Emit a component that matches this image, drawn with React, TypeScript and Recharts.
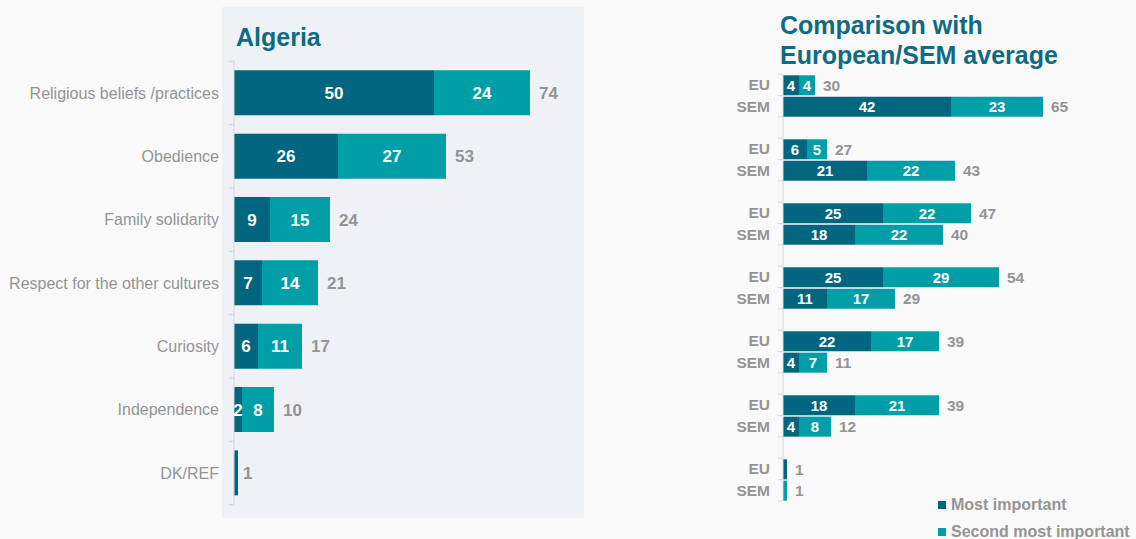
import { BarChart, Bar, XAxis, YAxis, LabelList } from "recharts";

const categories = [
  "Religious beliefs /practices",
  "Obedience",
  "Family solidarity",
  "Respect for the other cultures",
  "Curiosity",
  "Independence",
  "DK/REF",
];
const algeriaMost = [50, 26, 9, 7, 6, 2, 1];
const algeriaSecond = [24, 27, 15, 14, 11, 8, 0];
const algeriaTotal = [74, 53, 24, 21, 17, 10, 1];

const euMost = [4, 6, 25, 25, 22, 18, 1];
const euSecond = [4, 5, 22, 29, 17, 21, 0];
const euTotal = [30, 27, 47, 54, 39, 39, 1];
const semMost = [42, 21, 18, 11, 4, 4, 0];
const semSecond = [23, 22, 22, 17, 7, 8, 1];
const semTotal = [65, 43, 40, 29, 11, 12, 1];

const DARK = "#00667f";
const TEAL = "#009fa8";
const GREY = "#949494";
const TITLE = "#0f6a82";
const FONT = '"Liberation Sans", Arial, Helvetica, sans-serif';

// the total goes after the last non-empty segment
const row = (key: string, label: string, most: number, second: number, total: number | null) => ({
  key,
  label,
  most,
  second,
  totalA: total != null && second === 0 ? total : null,
  totalB: total != null && second > 0 ? total : null,
});

const leftData = categories.map((c, i) => row(c, c, algeriaMost[i], algeriaSecond[i], algeriaTotal[i]));

const rightData: ReturnType<typeof row>[] = [];
categories.forEach((c, i) => {
  rightData.push(row(`eu-${i}`, "EU", euMost[i], euSecond[i], euTotal[i]));
  rightData.push(row(`sem-${i}`, "SEM", semMost[i], semSecond[i], semTotal[i]));
  if (i < categories.length - 1) rightData.push(row(`gap-${i}`, "", 0, 0, null));
});

// left chart geometry
const L_W = 580;
const L_H = 539;
const L_TOP = 61.3;
const L_BOTTOM = 34.3;
const L_AXIS = 234;
const L_BAND = (L_H - L_TOP - L_BOTTOM) / leftData.length;

// right chart geometry
const R_W = 436;
const R_H = 539;
const R_TOP = 74.3;
const R_BOTTOM = 38;
const R_AXIS = 83;
const R_BAND = (R_H - R_TOP - R_BOTTOM) / rightData.length;

function makeTick(data: any[], axisX: number, band: number, fontSize: number, weight: number, gap: number) {
  return (props: any) => {
    const { y, payload } = props;
    const idx = data.findIndex((d) => d.key === payload.value);
    const r = data[idx];
    const last = idx === data.length - 1;
    return (
      <g>
        <line x1={axisX - 5} x2={axisX} y1={y - band / 2} y2={y - band / 2} stroke="#d6d6d6" />
        {last && <line x1={axisX - 5} x2={axisX} y1={y + band / 2} y2={y + band / 2} stroke="#d6d6d6" />}
        <text
          x={axisX - gap}
          y={y}
          dy="0.35em"
          textAnchor="end"
          fill={GREY}
          fontSize={fontSize}
          fontWeight={weight}
          fontFamily={FONT}
        >
          {r ? r.label : ""}
        </text>
      </g>
    );
  };
}

function innerLabel(fontSize: number) {
  return (props: any) => {
    const vb = props.viewBox || props;
    const v = Number(props.value);
    if (!v || v <= 1) return null;
    return (
      <text
        x={vb.x + vb.width / 2}
        y={vb.y + vb.height / 2}
        dy="0.36em"
        textAnchor="middle"
        fill="#ffffff"
        fontSize={fontSize}
        fontWeight={700}
        fontFamily={FONT}
      >
        {v}
      </text>
    );
  };
}

function totalLabel(fontSize: number, offset: number) {
  return (props: any) => {
    const vb = props.viewBox || props;
    if (props.value == null || props.value === "") return null;
    return (
      <text
        x={vb.x + vb.width + offset}
        y={vb.y + vb.height / 2}
        dy="0.36em"
        textAnchor="start"
        fill={GREY}
        fontSize={fontSize}
        fontWeight={700}
        fontFamily={FONT}
      >
        {props.value}
      </text>
    );
  };
}

export default function App() {
  return (
    <div
      style={{
        position: "absolute",
        left: 0,
        top: 0,
        width: 1136,
        height: 539,
        background: "#f9f9f9",
        overflow: "hidden",
        fontFamily: FONT,
      }}
    >
      <div
        style={{ position: "absolute", left: 222, top: 7, width: 362, height: 511, background: "#eef1f5" }}
      />
      <div
        style={{
          position: "absolute",
          left: 236,
          top: 22,
          fontSize: 25,
          fontWeight: 700,
          color: TITLE,
          lineHeight: "30px",
        }}
      >
        Algeria
      </div>
      <div
        style={{
          position: "absolute",
          left: 780,
          top: 10,
          fontSize: 25,
          fontWeight: 700,
          color: TITLE,
          lineHeight: "30px",
        }}
      >
        Comparison with
        <br />
        European/SEM average
      </div>

      <div style={{ position: "absolute", left: 0, top: 0 }}>
        <BarChart
          width={L_W}
          height={L_H}
          data={leftData}
          layout="vertical"
          margin={{ top: L_TOP, bottom: L_BOTTOM, left: 0, right: 26 }}
        >
          <XAxis type="number" domain={[0, 80]} hide />
          <YAxis
            type="category"
            dataKey="key"
            width={L_AXIS}
            tickLine={false}
            axisLine={{ stroke: "#d6d6d6" }}
            tick={makeTick(leftData, L_AXIS, L_BAND, 16, 400, 15)}
            interval={0}
          />
          <Bar dataKey="most" stackId="a" fill={DARK} barSize={45} isAnimationActive={false}>
            <LabelList dataKey="most" content={innerLabel(17)} />
            <LabelList dataKey="totalA" content={totalLabel(17, 5)} />
          </Bar>
          <Bar dataKey="second" stackId="a" fill={TEAL} barSize={45} isAnimationActive={false}>
            <LabelList dataKey="second" content={innerLabel(17)} />
            <LabelList dataKey="totalB" content={totalLabel(17, 9)} />
          </Bar>
        </BarChart>
      </div>

      <div style={{ position: "absolute", left: 700, top: 0 }}>
        <BarChart
          width={R_W}
          height={R_H}
          data={rightData}
          layout="vertical"
          margin={{ top: R_TOP, bottom: R_BOTTOM, left: 0, right: 33 }}
        >
          <XAxis type="number" domain={[0, 80]} hide />
          <YAxis
            type="category"
            dataKey="key"
            width={R_AXIS}
            tickLine={false}
            axisLine={{ stroke: "#d6d6d6" }}
            tick={makeTick(rightData, R_AXIS, R_BAND, 15.5, 700, 13)}
            interval={0}
          />
          <Bar dataKey="most" stackId="a" fill={DARK} barSize={20} isAnimationActive={false}>
            <LabelList dataKey="most" content={innerLabel(15)} />
            <LabelList dataKey="totalA" content={totalLabel(15.5, 8)} />
          </Bar>
          <Bar dataKey="second" stackId="a" fill={TEAL} barSize={20} isAnimationActive={false}>
            <LabelList dataKey="second" content={innerLabel(15)} />
            <LabelList dataKey="totalB" content={totalLabel(15.5, 8)} />
          </Bar>
        </BarChart>
      </div>

      <div style={{ position: "absolute", left: 938, top: 491, lineHeight: "18px" }}>
        {[
          { name: "Most important", color: DARK },
          { name: "Second most important", color: TEAL },
        ].map((l) => (
          <div key={l.name} style={{ display: "flex", alignItems: "center", height: 27 }}>
            <span style={{ width: 8, height: 8, background: l.color, marginRight: 5, display: "inline-block" }} />
            <span style={{ fontSize: 16, fontWeight: 700, color: GREY }}>{l.name}</span>
          </div>
        ))}
      </div>
    </div>
  );
}
